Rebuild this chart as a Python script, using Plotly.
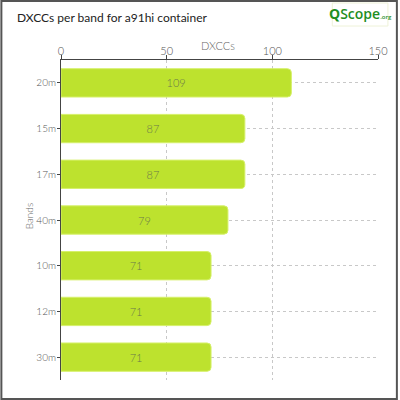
import plotly.graph_objects as go

# data
bands = ["20m", "15m", "17m", "40m", "10m", "12m", "30m"]
dxccs = [109, 87, 87, 79, 71, 71, 71]

W, H = 400, 400
ML, MR, MT, MB = 61, 20, 60, 20
PW, PH = W - ML - MR, H - MT - MB


def px_x(p):
    return (p - ML) / PW


def px_y(p):
    return (H - MB - p) / PH


fig = go.Figure(go.Bar(
    x=dxccs, y=bands, orientation="h",
    marker=dict(color="#bde22e", line=dict(color="#d6f06a", width=1), cornerradius=4),
    width=0.62,
    text=dxccs, textposition="inside", insidetextanchor="middle",
    textfont=dict(color="#6b7a4a", size=11, family="Lato", weight=300),
    hoverinfo="skip",
))

fig.update_layout(
    width=W, height=H,
    margin=dict(l=ML, r=MR, t=MT, b=MB),
    paper_bgcolor="white", plot_bgcolor="white",
    font=dict(family="Lato", color="#555", size=11, weight=300),
    showlegend=False,
    xaxis=dict(
        side="top", range=[0, 150], tickvals=[0, 50, 100, 150],
        showline=True, linecolor="#444", linewidth=1,
        ticks="outside", ticklen=4, tickcolor="#444", ticklabelstandoff=-4,
        showgrid=True, gridcolor="#c8c8c8", griddash="3px,3px", gridwidth=1,
        zeroline=False, fixedrange=True,
    ),
    yaxis=dict(
        autorange="reversed",
        showline=True, linecolor="#444", linewidth=1,
        ticks="outside", ticklen=3, tickcolor="#444", ticklabelstandoff=-1,
        tickfont=dict(size=10),
        showgrid=True, gridcolor="#c8c8c8", griddash="3px,3px", gridwidth=1,
        fixedrange=True,
    ),
    shapes=[
        dict(type="rect", xref="paper", yref="paper",
             x0=px_x(1), x1=px_x(399), y0=px_y(399), y1=px_y(1),
             line=dict(color="#555", width=2), layer="above"),
        dict(type="rect", xref="paper", yref="paper",
             x0=px_x(334), x1=px_x(390), y0=px_y(26), y1=px_y(3),
             line=dict(color="#eef2d8", width=1), fillcolor="white", layer="above"),
    ],
    annotations=[
        dict(text="DXCCs per band for a91hi container", xref="paper", yref="paper",
             x=px_x(15), y=px_y(17), xanchor="left", yanchor="middle", showarrow=False,
             font=dict(size=12, color="#222", family="Lato", weight=400)),
        dict(text="DXCCs", xref="paper", yref="paper",
             x=px_x(219), y=px_y(45), xanchor="center", yanchor="middle", showarrow=False,
             font=dict(size=11, color="#666")),
        dict(text="Bands", xref="paper", yref="paper", textangle=-90,
             x=px_x(29), y=px_y(216), xanchor="center", yanchor="middle", showarrow=False,
             font=dict(size=10, color="#666")),
        dict(text="<b>Q</b>Scope<span style='font-size:6px'>.org</span>",
             xref="paper", yref="paper",
             x=px_x(362), y=px_y(14), xanchor="center", yanchor="middle", showarrow=False,
             font=dict(size=14, color="#1f8f1f", family="Open Sans", weight=600)),
    ],
)

fig.write_html("out.html", config={"displayModeBar": False},
               post_script="document.body.style.margin='0';")
